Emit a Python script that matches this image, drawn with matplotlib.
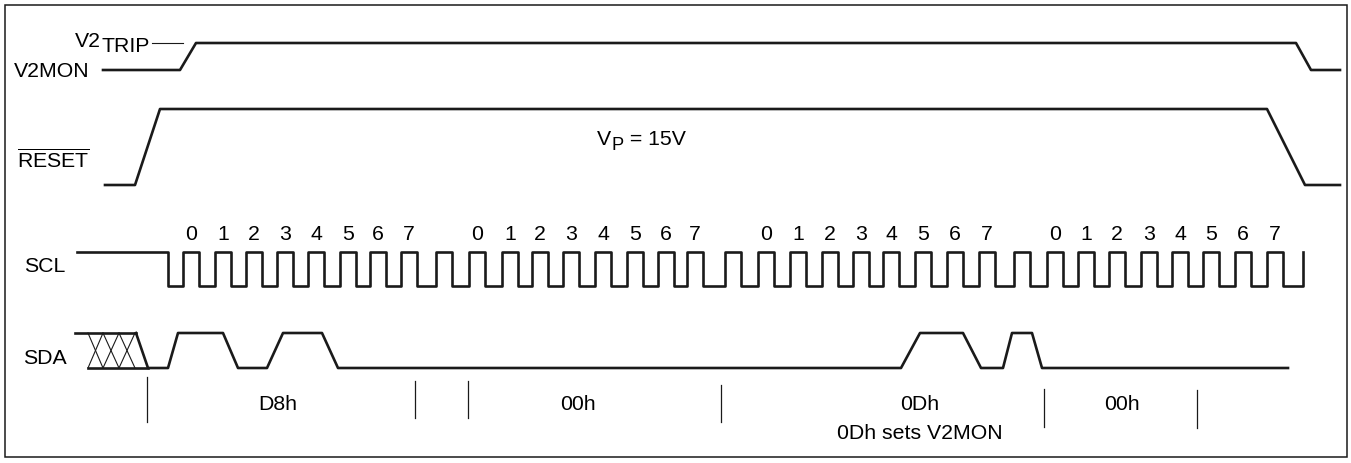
import matplotlib.pyplot as plt
from matplotlib.patches import Rectangle

plt.rcParams['font.family'] = ['Liberation Sans', 'DejaVu Sans']
plt.rcParams['mathtext.fontset'] = 'custom'
plt.rcParams['mathtext.rm'] = 'Liberation Sans'
plt.rcParams['mathtext.it'] = 'Liberation Sans:italic'

# ---- timing data (time axis in picture units) ----
v2mon_t = [103, 180, 196, 1296, 1311, 1340]
v2mon_lv = [0, 0, 1, 1, 0, 0]
v2trip_t = [152, 183]

reset_t = [105, 135, 160, 1267, 1305, 1340]
reset_lv = [0, 0, 1, 1, 0, 0]

scl_idle = [77, 168]
scl_rise = [183, 215, 246, 277, 308, 340, 370, 401, 436,
            469, 502, 532, 563, 595, 627, 658, 687, 725,
            758, 790, 822, 853, 883, 915, 947, 979, 1014,
            1047, 1078, 1109, 1141, 1172, 1203, 1235, 1267, 1303]
scl_high_w = 16
ack_idx = [8, 17, 26, 35]

sda_xx_top = [75, 136]
sda_xx_bot = [88, 148]
sda_xx_cross = [88, 103, 119, 135]
sda_t = [136, 148, 168, 178, 223, 238, 267, 283, 322, 338, 901, 920,
         963, 981, 1003, 1012, 1032, 1042, 1288]
sda_lv = [1, 0, 0, 1, 1, 0, 0, 1, 1, 0, 0, 1, 1, 0, 0, 1, 1, 0, 0]

bit_names = ['0', '1', '2', '3', '4', '5', '6', '7']
byte_names = ['D8h', '00h', '0Dh', '00h']
byte_mid = [278, 578, 920, 1122]
marker_x = [147, 415, 468, 721, 1044, 1197]
marker_top = [378, 382, 382, 386, 390, 391]
marker_bot = [423, 419, 419, 423, 428, 429]

# row layout: baseline (low level) and swing
rows = {'V2MON': (71, 27), 'RESET': (186, 76), 'SCL': (287, 34), 'SDA': (369, 35)}

col = '#1a1a1a'
lw = 1.9
fs = 15.3


def ys(row, levels):
    base, amp = rows[row]
    return [base - l * amp for l in levels]


fig = plt.figure(figsize=(13.51, 4.64), dpi=100)
ax = fig.add_axes([0, 0, 1, 1])
ax.set_xlim(0, 1351)
ax.set_ylim(464, 0)
ax.axis('off')

ax.add_patch(Rectangle((5, 6), 1342, 452, fill=False, ec=col, lw=1.1))

# V2MON
ax.plot(v2mon_t, ys('V2MON', v2mon_lv), color=col, lw=lw)
ax.plot(v2trip_t, ys('V2MON', [1, 1]), color=col, lw=0.8)
ax.text(90, 77, 'V2MON', fontsize=fs, ha='right', va='baseline')
t = ax.text(101, 47, 'V2', fontsize=fs, ha='right', va='baseline')
ax.annotate('TRIP', xy=(1, 0), xycoords=t, xytext=(0, -3.5), textcoords='offset points',
            fontsize=fs, ha='left', va='bottom')

# RESET
ax.plot(reset_t, ys('RESET', reset_lv), color=col, lw=lw)
ax.text(17, 168, r'$\overline{\mathrm{RESET}}$', fontsize=fs, ha='left', va='baseline')
t = ax.text(597, 145, 'V', fontsize=fs, ha='left', va='baseline')
t2 = ax.annotate('P', xy=(1, 0), xycoords=t, xytext=(0.5, -3.5), textcoords='offset points',
                 fontsize=fs * 0.86, ha='left', va='bottom')
ax.annotate(' = 15V', xy=(1, 0), xycoords=t2, xytext=(0, 3.5), textcoords='offset points',
            fontsize=fs, ha='left', va='bottom')

# SCL
sx = [scl_idle[0], scl_idle[1], scl_idle[1]]
sl = [1, 1, 0]
for i, r in enumerate(scl_rise):
    if i == len(scl_rise) - 1:
        sx += [r, r]
        sl += [0, 1]
    else:
        sx += [r, r, r + scl_high_w, r + scl_high_w]
        sl += [0, 1, 1, 0]
ax.plot(sx, ys('SCL', sl), color=col, lw=lw)
ax.text(24, 272, 'SCL', fontsize=fs, ha='left', va='baseline')
k = 0
for i, r in enumerate(scl_rise):
    if i in ack_idx:
        continue
    ax.text(r + scl_high_w / 2, 240, bit_names[k % 8], fontsize=fs, ha='center', va='baseline')
    k += 1

# SDA
ax.plot(sda_xx_top, ys('SDA', [1, 1]), color=col, lw=lw)
ax.plot(sda_xx_bot, ys('SDA', [0, 0]), color=col, lw=lw)
for a, b in zip(sda_xx_cross[:-1], sda_xx_cross[1:]):
    ax.plot([a, b], ys('SDA', [1, 0]), color=col, lw=0.8)
    ax.plot([a, b], ys('SDA', [0, 1]), color=col, lw=0.8)
ax.plot(sda_t, ys('SDA', sda_lv), color=col, lw=lw)
ax.text(23, 364, 'SDA', fontsize=fs, ha='left', va='baseline')

# byte markers and labels
for x, y0, y1 in zip(marker_x, marker_top, marker_bot):
    ax.plot([x, x], [y0, y1], color=col, lw=0.9)
for name, x in zip(byte_names, byte_mid):
    ax.text(x, 410, name, fontsize=fs, ha='center', va='baseline')
ax.text(byte_mid[2], 439, '0Dh sets V2MON', fontsize=fs, ha='center', va='baseline')

fig.savefig('out.png', dpi=100)
